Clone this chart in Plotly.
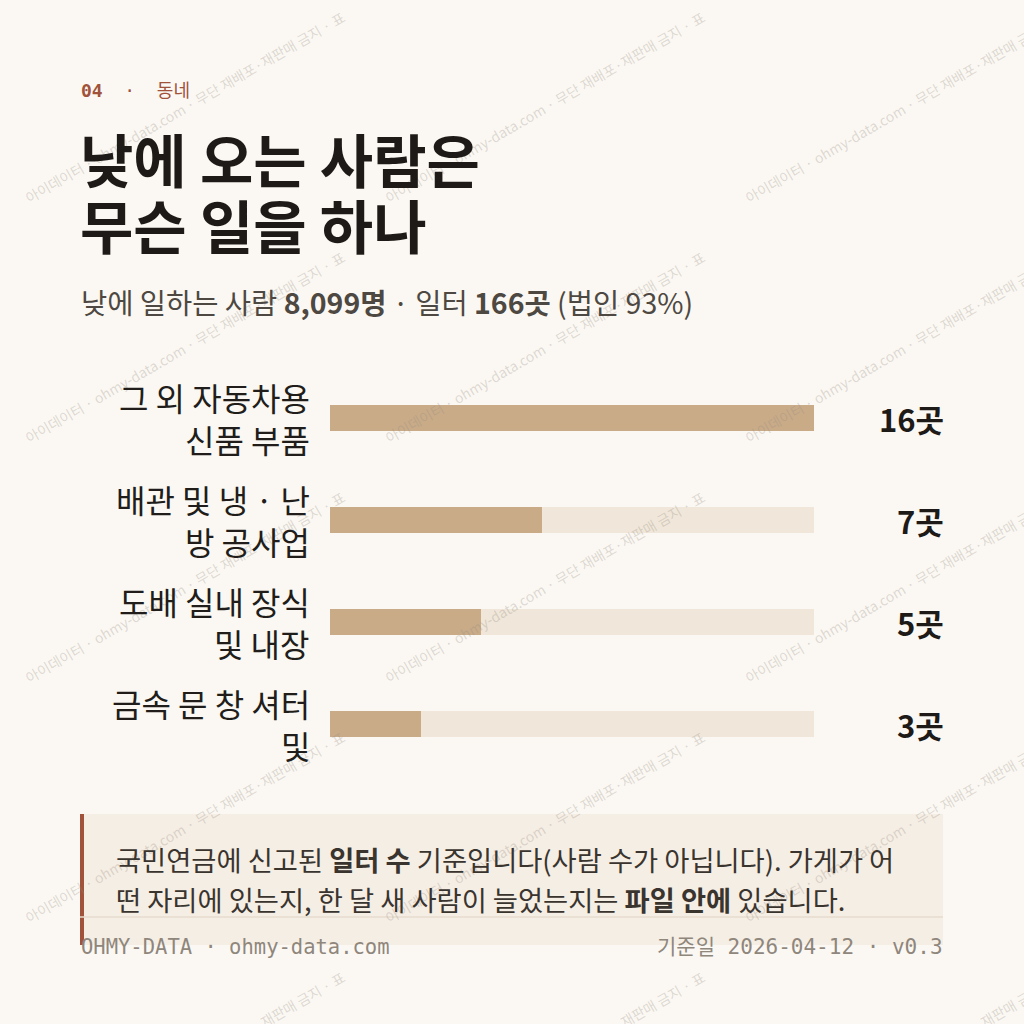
import plotly.graph_objects as go

# ---- data ----
categories = ["그 외 자동차용 신품 부품", "배관 및 냉·난방 공사업", "도배 실내 장식 및 내장", "금속 문 창 셔터 및"]
label_lines = [["그 외 자동차용", "신품 부품"], ["배관 및 냉 · 난", "방 공사업"], ["도배 실내 장식", "및 내장"], ["금속 문 창 셔터", "및"]]
values = [16, 7, 5, 3]
unit = "곳"
title_lines = ["낮에 오는 사람은", "무슨 일을 하나"]
people = "8,099명"
workplaces = "166곳"
corp_share = "93%"
note_lines = [
    "국민연금에 신고된 <b>일터 수</b> 기준입니다(사람 수가 아닙니다). 가게가 어",
    "떤 자리에 있는지, 한 달 새 사람이 늘었는지는 <b>파일 안에</b> 있습니다.",
]
footer_left = "OHMY-DATA · ohmy-data.com"
footer_right = "기준일 2026-04-12 · v0.3"
watermark = "아이데이터 · ohmy-data.com · 무단 재배포·재판매 금지 · 표"

# ---- style ----
W = H = 1024
BG = "#fbf8f3"
BAR = "#c9ab88"
TRACK = "#f0e7da"
ACCENT = "#a0523a"
INK = "#1e1a17"
KR = "Noto Sans CJK KR"
MONO = "DejaVu Sans Mono"

def px(x):
    return x / W

def py(y):
    return 1 - y / H

row_h = 102
top = 418 - row_h / 2
bottom = 724 + row_h / 2

fig = go.Figure()
fig.add_trace(go.Bar(
    y=categories, x=[max(values)] * len(values), orientation="h",
    marker=dict(color=TRACK, line=dict(width=0)), width=0.25,
    hoverinfo="skip", showlegend=False,
))
fig.add_trace(go.Bar(
    y=categories, x=values, orientation="h",
    marker=dict(color=BAR, line=dict(width=0)), width=0.25,
    showlegend=False,
))

ann = []
# watermark tiles
for r in range(6):
    for c in range(4):
        x0 = c * 360
        y0 = 215 + r * 240
        ann.append(dict(
            x=px(x0 + 185), y=py(y0 - 108), xref="paper", yref="paper",
            text=watermark, showarrow=False, textangle=-30,
            font=dict(family=KR, size=14, color="rgba(150,140,128,0.3)"),
            xanchor="center", yanchor="middle",
        ))

# kicker
ann.append(dict(x=px(79), y=py(90), xref="paper", yref="paper", xanchor="left", yanchor="middle",
                text="<b>04</b>\u00a0\u00a0·\u00a0\u00a0동네", showarrow=False,
                font=dict(family=MONO + ", " + KR, size=18, color=ACCENT)))
# title
for i, t in enumerate(title_lines):
    ann.append(dict(x=px(78), y=py(158 + i * 66), xref="paper", yref="paper", xanchor="left", yanchor="middle",
                    text="<b>" + t + "</b>", showarrow=False,
                    font=dict(family=KR, size=58, color=INK)))
# subtitle
ann.append(dict(x=px(79), y=py(301), xref="paper", yref="paper", xanchor="left", yanchor="middle",
                text=f"낮에 일하는 사람 <b>{people}</b> · 일터 <b>{workplaces}</b> (법인 {corp_share})",
                showarrow=False, font=dict(family=KR, size=28.5, color="#4e4842")))
# category labels
for cat, lines in zip(categories, label_lines):
    n = len(lines)
    for j, ln in enumerate(lines):
        ann.append(dict(x=px(312), xref="paper", y=cat, yref="y", xanchor="right", yanchor="middle",
                        yshift=-(j - (n - 1) / 2) * 42, text=ln, showarrow=False,
                        font=dict(family=KR, size=32, color="#211d1a")))
# values
for cat, v in zip(categories, values):
    ann.append(dict(x=px(946), xref="paper", y=cat, yref="y", xanchor="right", yanchor="middle",
                    text=f"<b>{v}{unit}</b>", showarrow=False,
                    font=dict(family=KR, size=31, color="#1e1a17")))
# note
for i, ln in enumerate(note_lines):
    ann.append(dict(x=px(114), y=py(859 + i * 40), xref="paper", yref="paper", xanchor="left", yanchor="middle",
                    text=ln, showarrow=False, font=dict(family=KR, size=27.3, color="#3a342f")))
# footer
ann.append(dict(x=px(79), y=py(947), xref="paper", yref="paper", xanchor="left", yanchor="middle",
                text=footer_left, showarrow=False, font=dict(family=MONO + ", " + KR, size=20.5, color="#8f867c")))
ann.append(dict(x=px(945), y=py(947), xref="paper", yref="paper", xanchor="right", yanchor="middle",
                text=footer_right, showarrow=False, font=dict(family=MONO + ", " + KR, size=21, color="#8f867c")))

shapes = [
    dict(type="rect", xref="paper", yref="paper", x0=px(80), x1=px(943), y0=py(945), y1=py(814),
         fillcolor="#f5eee4", line=dict(width=0), layer="below"),
    dict(type="rect", xref="paper", yref="paper", x0=px(80), x1=px(84), y0=py(945), y1=py(814),
         fillcolor=ACCENT, line=dict(width=0), layer="below"),
    dict(type="line", xref="paper", yref="paper", x0=px(80), x1=px(943), y0=py(917), y1=py(917),
         line=dict(color="#e6dccf", width=1.5)),
]

fig.update_layout(
    width=W, height=H, margin=dict(l=0, r=0, t=0, b=0),
    paper_bgcolor=BG, plot_bgcolor="rgba(0,0,0,0)",
    barmode="overlay", bargap=0,
    xaxis=dict(domain=[px(330), px(814)], range=[0, max(values)], visible=False, fixedrange=True),
    yaxis=dict(domain=[py(bottom), py(top)], categoryorder="array", categoryarray=categories,
               autorange="reversed", visible=False, fixedrange=True),
    annotations=ann, shapes=shapes, font=dict(family=KR),
)

fig.write_html("out.html", config={"displayModeBar": False},
               post_script="document.body.style.margin='0';document.body.style.background='" + BG + "';")
